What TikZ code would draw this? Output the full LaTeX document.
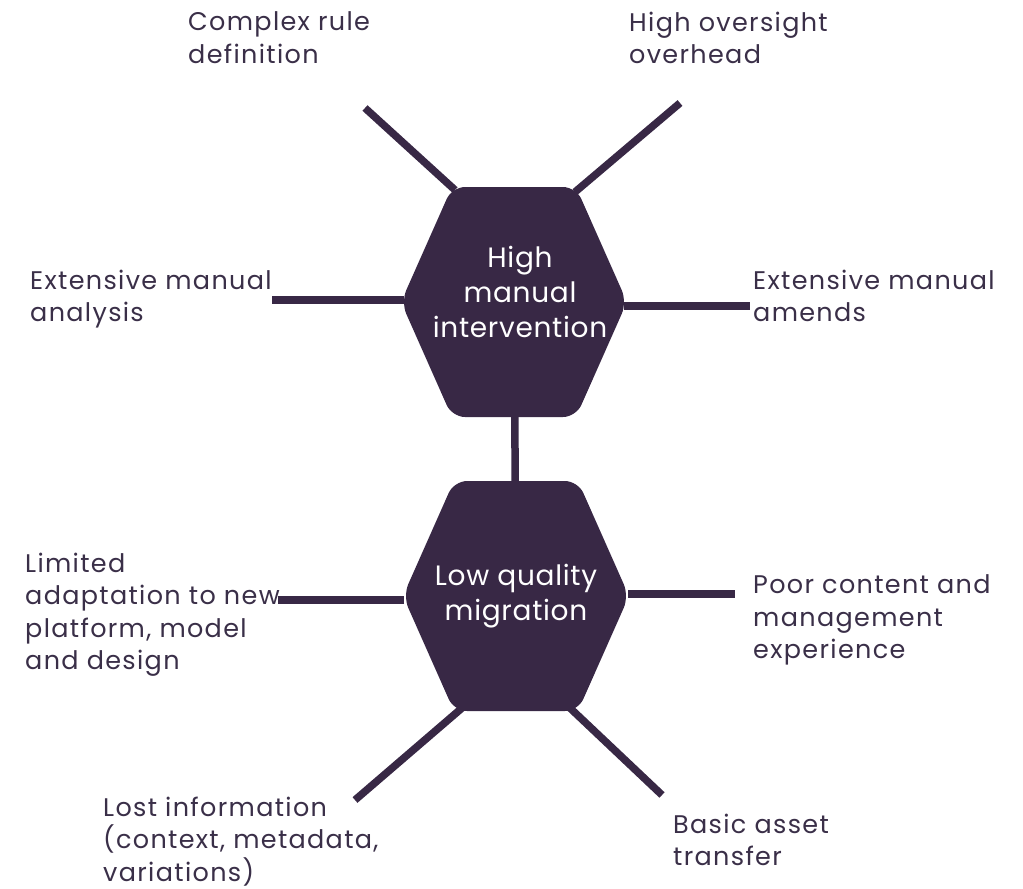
\documentclass[tikz,border=0pt]{standalone}
\usepackage{fontspec}
\setmainfont{Poppins}
\newfontfamily\labelfont[LetterSpace=5.2]{Poppins}
\newfontfamily\hexfont[LetterSpace=2.5]{Poppins}
\usetikzlibrary{positioning}
\definecolor{hexpurple}{HTML}{382845}
\definecolor{labelink}{HTML}{3A2F48}
\tikzset{
  spoke/.style={draw=hexpurple, line width=7.5pt},
  hexfill/.style={fill=hexpurple, rounded corners=13pt},
  hextext/.style={text=white, align=center, inner sep=0pt,
    font=\hexfont\fontsize{28}{35}\selectfont},
  outlabel/.style={text=labelink, align=left, anchor=north west,
    inner sep=0pt, font=\labelfont\fontsize{25.5}{32.5}\selectfont},
}
% flat-topped hexagon round a centre
\newcommand{\hexpath}[1]{%
  \fill[hexfill] (#1) ++(-113,0) -- ++(51,-115) -- ++(124,0)
    -- ++(51,115) -- ++(-51,115) -- ++(-124,0) -- cycle;}
\begin{document}
\begin{tikzpicture}[x=1pt,y=-1pt]
  \useasboundingbox (0,0) rectangle (1023,889);
  % hexagon centres
  \coordinate (manual) at (514,302);
  \coordinate (quality) at (516,596);
  % free ends of the spokes
  \coordinate (rule) at (365,108);
  \coordinate (oversight) at (680,103);
  \coordinate (analysis) at (272,300);
  \coordinate (amends) at (750,306);
  \coordinate (adaptation) at (278,600);
  \coordinate (experience) at (735,594);
  \coordinate (lost) at (355,800);
  \coordinate (transfer) at (662,795);

  % spokes
  \draw[spoke] (manual) -- (quality);
  \draw[spoke] (manual) ++(-59,-112) -- (rule);
  \draw[spoke] (manual) ++(61,-110) -- (oversight);
  \draw[spoke] (manual) ++(-110,-2) -- (analysis);
  \draw[spoke] (manual) ++(110,4) -- (amends);
  \draw[spoke] (quality) ++(-112,4) -- (adaptation);
  \draw[spoke] (quality) ++(112,-2) -- (experience);
  \draw[spoke] (quality) ++(-54,112) -- (lost);
  \draw[spoke] (quality) ++(54,112) -- (transfer);

  % hexagons
  \hexpath{manual}
  \hexpath{quality}
  \node[hextext] (manualtxt) at (520,292) {High\\manual\\intervention};
  \node[hextext] (qualitytxt) at (516,596) {Low quality\\migration};

  % outer labels
  \node[outlabel] (rulelbl) at (188,11.5) {Complex rule\\definition};
  \node[outlabel] (oversightlbl) at (629,11.5) {High oversight\\overhead};
  \node[outlabel] (analysislbl) at (30,269.5) {Extensive manual\\analysis};
  \node[outlabel] (amendslbl) at (753,269.5) {Extensive manual\\amends};
  \node[outlabel] (adaptationlbl) at (25,552.5)
    {Limited\\adaptation to new\\platform, model\\and design};
  \node[outlabel] (experiencelbl) at (753,574.5)
    {Poor content and\\management\\experience};
  \node[outlabel] (lostlbl) at (103,796.5)
    {Lost information\\(context, metadata,\\variations)};
  \node[outlabel] (transferlbl) at (673,813.5) {Basic asset\\transfer};
\end{tikzpicture}
\end{document}
